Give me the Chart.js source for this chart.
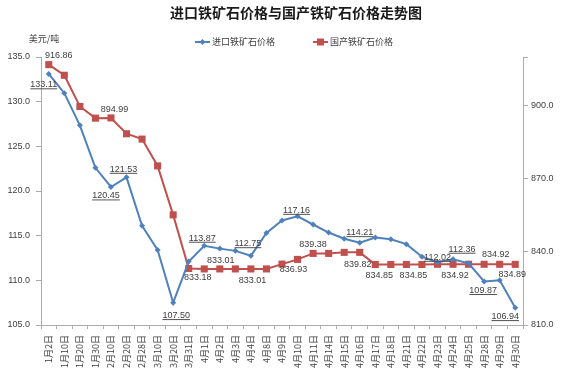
<!DOCTYPE html>
<html><head><meta charset="utf-8">
<script src="https://cdn.jsdelivr.net/npm/chart.js@4.4.1/dist/chart.umd.min.js"></script>
<style>html,body{margin:0;padding:0;background:#fff;}#wrap{width:565px;height:374px;position:relative;}</style>
</head><body><div id="wrap"><canvas id="c" width="565" height="374"></canvas></div>
<script>
const categories = ['1月2日','1月10日','1月20日','1月30日','2月10日','2月20日','2月28日','3月10日','3月20日','3月31日','4月1日','4月2日','4月3日','4月4日','4月8日','4月9日','4月10日','4月11日','4月14日','4月15日','4月16日','4月17日','4月18日','4月21日','4月22日','4月23日','4月24日','4月25日','4月28日','4月29日','4月30日'];
const importPrice = [133.11,130.95,127.35,122.6,120.45,121.53,116.1,113.4,107.50,112.1,113.87,113.55,113.3,112.75,115.3,116.7,117.16,116.25,115.35,114.65,114.21,114.8,114.6,114.05,112.65,112.02,112.36,111.9,109.87,110.0,106.94];
const domesticPrice = [916.86,912.5,899.7,894.9,894.99,888.5,886.3,875.3,855.2,833.18,833.01,833.01,833.01,833.01,833.01,835.0,836.93,839.38,839.38,839.82,839.82,834.85,834.85,834.85,834.85,834.92,834.92,834.92,834.92,834.92,834.89];
const seriesNames = ['进口铁矿石价格','国产铁矿石价格'];
const leftTicks = [105,110,115,120,125,130,135];
const rightTicks = [810,840,870,900];
const chartTitle = '进口铁矿石价格与国产铁矿石价格走势图';
const unitLabel = '美元/吨';

// which points carry a value label, and where the label sits relative to its point
const labelPlacement = [
  {0:[-5,10],4:[-5,8],5:[-3,-9],8:[3,12],10:[-2,-8.5],13:[-3,-13],16:[-1,-7],20:[0,-11],25:[0,-6],26:[9,-11],28:[-1,8],30:[-10,8]},
  {0:[10,-9.5],4:[3.5,-9],9:[9,8.5],11:[1,-9],13:[1.5,11],16:[-4,9],17:[0,-9.5],20:[-2,11.5],21:[4,10.5],23:[7,10.5],26:[2,10.5],29:[-4,-11],30:[-3,9]}
];
const BLUE = '#4F81BD', RED = '#C0504D', AXIS = '#ABABAB', TXT = '#404040';
const numFont = '"Liberation Sans", Arial, sans-serif';
const cjkFont = '"Noto Sans CJK SC", sans-serif';

const decor = {
  id: 'decor',
  afterDatasetsDraw(chart) {
    const ctx = chart.ctx;
    ctx.save();
    ctx.font = '9px ' + numFont;
    ctx.fillStyle = TXT;
    ctx.textAlign = 'center';
    ctx.textBaseline = 'alphabetic';
    chart.data.datasets.forEach((ds, di) => {
      const meta = chart.getDatasetMeta(di);
      const place = labelPlacement[di];
      Object.keys(place).forEach(k => {
        const i = +k, el = meta.data[i];
        const [dx, dy] = place[k];
        const txt = ds.data[i].toFixed(2);
        const x = el.x + dx, y = el.y + dy;
        ctx.fillText(txt, x, y + 3.3);
        if (di === 0) {
          const w = ctx.measureText(txt).width;
          ctx.fillRect(x - w / 2, y + 4.5, w, 0.9);
        }
      });
    });
    ctx.restore();
  },
  afterDraw(chart) {
    const ctx = chart.ctx;
    ctx.save();
    ctx.fillStyle = '#1a1a1a';
    ctx.font = 'bold 14px ' + cjkFont;
    ctx.textAlign = 'center';
    ctx.textBaseline = 'middle';
    ctx.fillText(chartTitle, 296, 12.5);
    ctx.fillStyle = TXT;
    ctx.font = '9px ' + cjkFont;
    ctx.fillText(unitLabel, 44, 39);
    // legend
    const items = [{x0:195, ds:chart.data.datasets[0], style:'diamond'},{x0:313, ds:chart.data.datasets[1], style:'square'}];
    items.forEach(it => {
      const y = 42;
      ctx.strokeStyle = it.ds.borderColor; ctx.lineWidth = 2;
      ctx.beginPath(); ctx.moveTo(it.x0, y); ctx.lineTo(it.x0 + 15, y); ctx.stroke();
      ctx.fillStyle = it.ds.borderColor;
      const cx = it.x0 + 7.5;
      ctx.beginPath();
      if (it.style === 'diamond') { ctx.moveTo(cx-3,y); ctx.lineTo(cx,y-3); ctx.lineTo(cx+3,y); ctx.lineTo(cx,y+3); ctx.closePath(); }
      else { ctx.rect(cx-3.5, y-3.5, 7, 7); }
      ctx.fill();
      ctx.fillStyle = TXT;
      ctx.textAlign = 'left';
      ctx.fillText(it.ds.label, it.x0 + 17, y);
    });
    ctx.restore();
  }
};

new Chart(document.getElementById('c'), {
  type: 'line',
  data: {
    labels: categories,
    datasets: [
      {label: seriesNames[0], data: importPrice, yAxisID: 'y', borderColor: BLUE, backgroundColor: BLUE, borderWidth: 2, pointStyle: 'rectRot', pointRadius: 3, pointBorderWidth: 0, tension: 0},
      {label: seriesNames[1], data: domesticPrice, yAxisID: 'y1', borderColor: RED, backgroundColor: RED, borderWidth: 2, pointStyle: 'rect', pointRadius: 5, pointBorderWidth: 0, tension: 0}
    ]
  },
  options: {
    responsive: false,
    animation: false,
    events: [],
    layout: {padding: {top: 57, left: 0, right: 0, bottom: 0}},
    plugins: {legend: {display: false}, title: {display: false}, tooltip: {enabled: false}},
    scales: {
      x: {
        offset: true,
        grid: {display: true, offset: true, drawOnChartArea: false, color: AXIS, tickLength: 4},
        border: {display: true, color: AXIS, width: 1},
        ticks: {autoSkip: false, maxRotation: 90, minRotation: 90, color: TXT, font: {size: 9, family: cjkFont}, padding: 6},
        afterFit(s) { s.height = 49; }
      },
      y: {
        position: 'left', min: 105, max: 135,
        afterBuildTicks(s) { s.ticks = leftTicks.map(v => ({value: v})); },
        grid: {display: true, drawOnChartArea: false, color: AXIS, tickLength: 5},
        border: {display: true, color: AXIS, width: 1},
        ticks: {color: TXT, font: {size: 9, family: numFont}, padding: 6, callback: v => v.toFixed(1)},
        afterFit(s) { s.width = 41; }
      },
      y1: {
        position: 'right', min: 810, max: 920,
        afterBuildTicks(s) { s.ticks = rightTicks.map(v => ({value: v})).concat([{value: 920}]); },
        grid: {display: true, drawOnChartArea: false, color: AXIS, tickLength: 5},
        border: {display: true, color: AXIS, width: 1},
        ticks: {color: TXT, font: {size: 9, family: numFont}, padding: 3, callback: v => v === 920 ? '' : v.toFixed(1)},
        afterFit(s) { s.width = 42; }
      }
    }
  },
  plugins: [decor]
});
</script>
</body></html>
